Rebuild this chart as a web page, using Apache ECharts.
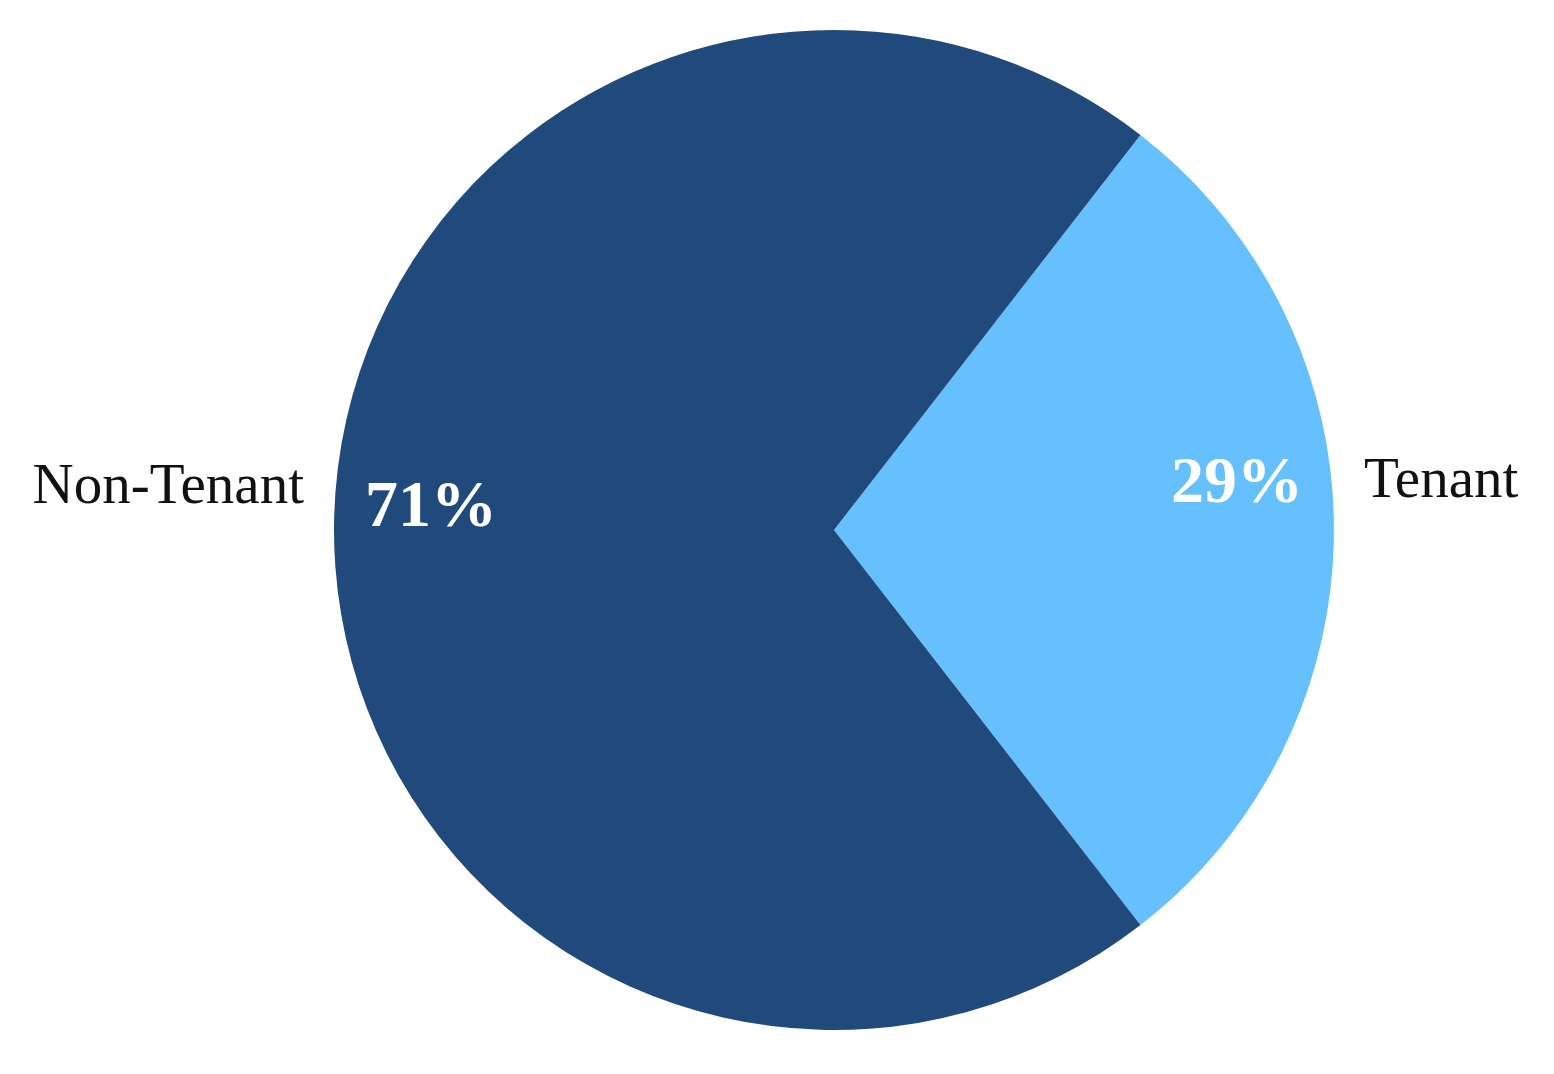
<!DOCTYPE html>
<html>
<head>
<meta charset="utf-8">
<script src="https://cdn.jsdelivr.net/npm/echarts@6/dist/echarts.min.js"></script>
<style>
html,body{margin:0;padding:0;background:#fff;}
#chart{width:1554px;height:1074px;}
</style>
</head>
<body>
<div id="chart"></div>
<script>
const categories = ["Tenant", "Non-Tenant"];
const values = [29, 71];
const pctLabels = ["29%", "71%"];

const colors = ["#66c0fe", "#214a7c"];
const nameOffsets = [[0, -48], [0, -42]];
const pctOffsets = [[0, -45], [0, -21]];

const R = 500;
const center = [834, 530];

const chart = echarts.init(document.getElementById('chart'), null, {renderer: 'canvas'});

const mainData = categories.map((c, i) => ({
  name: c,
  value: values[i],
  itemStyle: {color: colors[i]},
  label: {offset: nameOffsets[i]}
}));
const pctData = categories.map((c, i) => ({
  name: pctLabels[i],
  value: values[i],
  label: {offset: pctOffsets[i]}
}));

chart.setOption({
  animation: false,
  backgroundColor: '#ffffff',
  series: [
    {
      type: 'pie',
      center: center,
      radius: [0, R],
      startAngle: 52.2,
      clockwise: true,
      avoidLabelOverlap: false,
      silent: true,
      itemStyle: {borderWidth: 0},
      label: {
        show: true,
        position: 'outside',
        formatter: '{b}',
        fontFamily: '"Liberation Serif", "Times New Roman", serif',
        fontSize: 57,
        color: '#111111',
        distanceToLabelLine: 5
      },
      labelLine: {show: false, length: 25, length2: 0},
      data: mainData
    },
    {
      type: 'pie',
      center: center,
      radius: [R * 0.6, R],
      startAngle: 52.2,
      clockwise: true,
      avoidLabelOverlap: false,
      silent: true,
      itemStyle: {color: 'rgba(0,0,0,0)', borderWidth: 0},
      label: {
        show: true,
        position: 'inside',
        formatter: '{b}',
        fontFamily: '"Liberation Serif", "Times New Roman", serif',
        fontWeight: 'bold',
        fontSize: 66,
        color: '#ffffff'
      },
      labelLine: {show: false},
      data: pctData
    }
  ]
});
</script>
</body>
</html>
